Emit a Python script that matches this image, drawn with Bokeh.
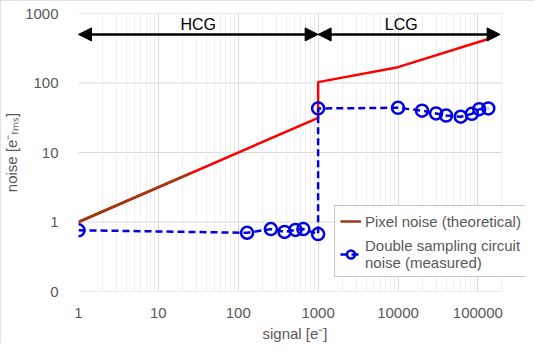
from bokeh.plotting import figure
from bokeh.models import (FixedTicker, Legend, LegendItem, Arrow, NormalHead, Label, Title)
from bokeh.embed import file_html
from bokeh.resources import INLINE

# ---- data ----
pixel_signal = [1, 1000, 1000, 10000, 135000]
pixel_noise = [1, 31.6, 103, 169, 430]
pixel_low_signal = [1, 25]
pixel_low_noise = [1, 5]

ds_signal = [1, 129, 256, 380, 520, 653, 1000, 1000, 10000, 20000, 30000, 40000, 61000, 84000, 104000, 135000]
ds_noise = [0.76, 0.70, 0.79, 0.72, 0.77, 0.79, 0.67, 43, 44, 40, 36.5, 34, 32.7, 36, 42, 43]

x_ticks = [1, 10, 100, 1000, 10000, 100000]
x_tick_labels = ["1", "10", "100", "1000", "10000", "100000"]
y_ticks = [0.1, 1, 10, 100, 1000]
y_tick_labels = ["0", "1", "10", "100", "1000"]
x_min, x_max = 1, 200000
y_min, y_max = 0.1, 1000

hcg_range = [1, 1000]
lcg_range = [1000, 190000]
arrow_level = 500
hcg_label = ("HCG", 31.6, 700)
lcg_label = ("LCG", 11000, 700)

GRAY = "#595959"
BLUE = "#0000E0"
RED = "#FF0000"
BROWN = "#9C3A12"

# frame extended to the right so that the legend can sit past the data area
x_view_max = 10 ** (5.301 * 455 / 431)

p = figure(width=534, height=343, x_axis_type="log", y_axis_type="log",
           x_range=(x_min, x_view_max), y_range=(y_min, y_max),
           output_backend="svg", toolbar_location=None,
           min_border_left=70, min_border_right=9, min_border_top=13, min_border_bottom=50)
p.outline_line_color = None
p.styles = {"outline": "1px solid #d9d9d9", "outline-offset": "-1px"}

minor_x = [m * 10 ** e for e in range(0, 6) for m in range(2, 10) if m * 10 ** e <= x_max]
p.xaxis.ticker = FixedTicker(ticks=x_ticks, minor_ticks=minor_x)
p.yaxis.ticker = FixedTicker(ticks=y_ticks, minor_ticks=[])
p.xaxis.major_label_overrides = {t: l for t, l in zip(x_ticks, x_tick_labels)}
p.yaxis.major_label_overrides = {t: l for t, l in zip(y_ticks, y_tick_labels)}

for ax in (p.xaxis, p.yaxis):
    ax.axis_line_color = None
    ax.major_tick_line_color = None
    ax.minor_tick_line_color = None
    ax.major_label_text_font = "Liberation Sans"
    ax.major_label_text_font_size = "15px"
    ax.major_label_text_color = GRAY
    ax.axis_label_text_font = "Liberation Sans"
    ax.axis_label_text_font_size = "15px"
    ax.axis_label_text_color = GRAY
    ax.axis_label_text_font_style = "normal"

p.xaxis.major_label_standoff = 10
p.yaxis.major_label_standoff = 14
p.yaxis.axis_label = "noise [e⁻ᵣₘₛ]"
p.yaxis.axis_label_standoff = 2

# x axis title, placed under the data area (left part of the frame)
p.add_layout(Title(text="signal [e⁻]", align="left", offset=184, standoff=4,
                   text_font="Liberation Sans", text_font_size="15px",
                   text_font_style="normal", text_color=GRAY), "below")

p.xgrid.grid_line_color = "#d9d9d9"
p.xgrid.minor_grid_line_color = "#efefef"
p.ygrid.grid_line_color = None
# horizontal major gridlines limited to the data area
p.segment(x0=[x_min] * len(y_ticks), x1=[x_max] * len(y_ticks), y0=y_ticks, y1=y_ticks,
          line_color="#d9d9d9", line_width=1, level="underlay")

r_pix = p.line(pixel_signal, pixel_noise, line_color=RED, line_width=2.5)
r_pix_low = p.line(pixel_low_signal, pixel_low_noise, line_color=BROWN, line_width=2.5)
r_ds_line = p.line(ds_signal, ds_noise, line_color=BLUE, line_width=2.5, line_dash="7 4")
r_ds_pts = p.scatter(ds_signal, ds_noise, marker="circle", size=12, line_color=BLUE,
                     fill_color=None, line_width=2.5)

for rng in (hcg_range, lcg_range):
    p.add_layout(Arrow(x_start=rng[0], x_end=rng[1], y_start=arrow_level, y_end=arrow_level,
                       line_width=2.5, line_color="black",
                       start=NormalHead(size=13, fill_color="black", line_color="black"),
                       end=NormalHead(size=13, fill_color="black", line_color="black")))

for txt, lx, ly in (hcg_label, lcg_label):
    p.add_layout(Label(x=lx, y=ly, text=txt, text_align="center", text_baseline="middle",
                       text_font="Liberation Sans", text_font_size="16px", text_color="black"))

legend = Legend(items=[
    LegendItem(label="Pixel noise (theoretical)", renderers=[r_pix_low]),
    LegendItem(label="Double sampling circuit\nnoise (measured)", renderers=[r_ds_line, r_ds_pts]),
], location=(256, 14))
legend.label_text_font = "Liberation Sans"
legend.label_text_font_size = "15px"
legend.label_text_color = GRAY
legend.border_line_color = "#8c8c8c"
legend.border_line_width = 1
legend.background_fill_alpha = 1
legend.glyph_width = 21
legend.label_standoff = 4
legend.padding = 5
legend.spacing = 6
legend.margin = 0
p.add_layout(legend, "center")

open("out.html", "w").write(file_html(p, INLINE))
